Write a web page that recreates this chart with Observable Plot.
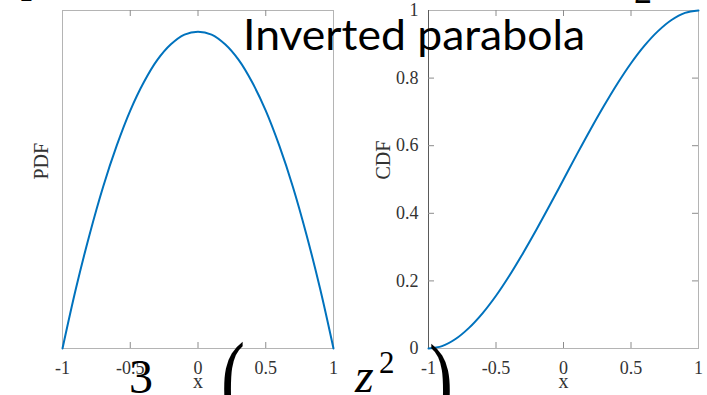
<!DOCTYPE html>
<html>
<head>
<meta charset="utf-8">
<script src="https://cdn.jsdelivr.net/npm/d3@7"></script>
<script src="https://cdn.jsdelivr.net/npm/@observablehq/plot@0.6"></script>
<style>
  html, body { margin: 0; padding: 0; background: #fff; }
  #page { position: relative; width: 707px; height: 395px; overflow: hidden; background: #fff; }
  #page > svg.panel { position: absolute; top: 0; }
  #overlay { position: absolute; left: 0; top: 0; pointer-events: none; }
</style>
</head>
<body>
<div id="page"></div>
<script>
// Inverted parabola on [-1, 1]: density and cumulative distribution, sampled every 0.1
const xs = [-1, -0.9, -0.8, -0.7, -0.6, -0.5, -0.4, -0.3, -0.2, -0.1, 0,
            0.1, 0.2, 0.3, 0.4, 0.5, 0.6, 0.7, 0.8, 0.9, 1];
const pdfValues = [0, 0.143, 0.27, 0.383, 0.48, 0.563, 0.63, 0.683, 0.72, 0.743, 0.75,
                   0.743, 0.72, 0.683, 0.63, 0.563, 0.48, 0.383, 0.27, 0.143, 0];
const cdfValues = [0, 0.007, 0.028, 0.061, 0.104, 0.156, 0.216, 0.282, 0.352, 0.425, 0.5,
                   0.575, 0.648, 0.718, 0.784, 0.844, 0.896, 0.939, 0.972, 0.993, 1];
const xTicks = [-1, -0.5, 0, 0.5, 1];
const cdfTicks = [0, 0.2, 0.4, 0.6, 0.8, 1];
const xLabel = "x";
const pdfLabel = "PDF";
const cdfLabel = "CDF";
const titleText = "Inverted parabola";

const pdfRows = xs.map((x, i) => ({x, y: pdfValues[i]}));
const cdfRows = xs.map((x, i) => ({x, y: cdfValues[i]}));

const lineColor = "#0072BD";
const boxColor = "#b4b4b4";
const tickColor = "#8c8c8c";
const textColor = "#333333";
const tickLen = 6;
const fmt = d => String(d);

const page = document.getElementById("page");

function panel({left, width, marginLeft, marginRight, rows, yDomain, yLabel, yTicks}) {
  const height = 395, marginTop = 10, marginBottom = 47;
  const innerW = width - marginLeft - marginRight;
  const innerH = height - marginTop - marginBottom;
  const innerX = xTicks.slice(1, -1);
  const marks = [
    Plot.frame({stroke: boxColor}),
    Plot.tickX(innerX, {x: d => d, insetTop: innerH - tickLen, stroke: tickColor}),
    Plot.tickX(innerX, {x: d => d, insetBottom: innerH - tickLen, stroke: tickColor}),
    Plot.axisX(xTicks, {tickSize: 0, tickPadding: 13, tickFormat: fmt, label: null,
                        fontSize: 18, fill: textColor}),
    Plot.text([xLabel], {frameAnchor: "bottom", dy: 39, text: d => d, fontSize: 20, fill: textColor})
  ];
  if (yTicks) {
    const innerY = yTicks.slice(1, -1);
    marks.push(
      Plot.ruleX([xTicks[0]], {stroke: "#5a5a5a"}),
      Plot.tickY(innerY, {y: d => d, insetRight: innerW - tickLen, stroke: tickColor}),
      Plot.tickY(innerY, {y: d => d, insetLeft: innerW - tickLen, stroke: tickColor}),
      Plot.axisY(yTicks, {tickSize: 0, tickPadding: 10, tickFormat: fmt, label: null,
                          fontSize: 18, fill: textColor}),
      Plot.text([yLabel], {frameAnchor: "left", dx: -45, rotate: -90, text: d => d,
                           fontSize: 20, fill: textColor})
    );
  } else {
    marks.push(
      Plot.text([yLabel], {frameAnchor: "left", dx: -21, rotate: -90, text: d => d,
                           fontSize: 20, fill: textColor})
    );
  }
  marks.push(Plot.line(rows, {x: "x", y: "y", stroke: lineColor, strokeWidth: 2, curve: "catmull-rom"}));
  const svg = Plot.plot({
    width, height, marginTop, marginBottom, marginLeft, marginRight,
    x: {domain: [xTicks[0], xTicks[xTicks.length - 1]]},
    y: {domain: yDomain},
    axis: null,
    style: {fontFamily: "'Liberation Serif', 'Times New Roman', serif", fontSize: "18px",
            background: "transparent", color: textColor, overflow: "visible"},
    marks
  });
  svg.classList.add("panel");
  svg.style.left = left + "px";
  page.appendChild(svg);
}

panel({left: 0, width: 360, marginLeft: 62, marginRight: 27, rows: pdfRows,
       yDomain: [0, 0.8], yLabel: pdfLabel});
panel({left: 360, width: 347, marginLeft: 68, marginRight: 9, rows: cdfRows,
       yDomain: [0, 1], yLabel: cdfLabel, yTicks: cdfTicks});

// Slide text laid over the two panels
const ns = "http://www.w3.org/2000/svg";
const overlay = document.createElementNS(ns, "svg");
overlay.setAttribute("id", "overlay");
overlay.setAttribute("width", 707);
overlay.setAttribute("height", 395);
function addText(str, attrs, transform) {
  const t = document.createElementNS(ns, "text");
  for (const k in attrs) t.setAttribute(k, attrs[k]);
  if (transform) t.setAttribute("transform", transform);
  t.textContent = str;
  overlay.appendChild(t);
}
addText(titleText, {x: 243, y: 50, "font-family": "Lato, 'Open Sans', sans-serif", "font-size": 42,
                    textLength: 342, lengthAdjust: "spacingAndGlyphs", fill: "#000"});
const mathFont = "'Liberation Serif', 'DejaVu Serif', serif";
addText("p", {x: 24, y: -9, "font-family": mathFont, "font-style": "italic", "font-size": 46, fill: "#000"});
addText("2", {x: 634, y: 3, "font-family": mathFont, "font-size": 36, fill: "#000"});
addText("3", {x: 129, y: 393, "font-family": mathFont, "font-size": 48, fill: "#000"});
// tall stretched brackets
addText("(", {x: 0, y: 0, "font-family": mathFont, "font-size": 72, fill: "#000"},
        "translate(221,414) scale(1,1.45)");
addText("z", {x: 355, y: 392, "font-family": mathFont, "font-style": "italic", "font-size": 48, fill: "#000"});
addText("2", {x: 379, y: 373, "font-family": mathFont, "font-size": 31, fill: "#000"});
addText(")", {x: 0, y: 0, "font-family": mathFont, "font-size": 72, fill: "#000"},
        "translate(429,416) scale(1,1.45)");
page.appendChild(overlay);
</script>
</body>
</html>
